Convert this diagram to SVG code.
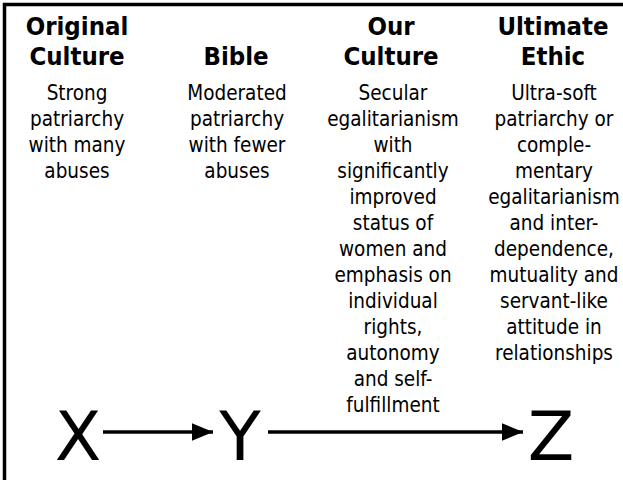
<svg xmlns="http://www.w3.org/2000/svg" width="623" height="480" viewBox="0 0 623 480">
<style>
text{font-family:"DejaVu Sans Condensed","DejaVu Sans",sans-serif;font-stretch:condensed;text-anchor:middle;fill:#000}
.h{font-weight:bold;font-size:25.5px}
.b{font-size:20.5px}
.big{font-family:"DejaVu Sans",sans-serif;font-stretch:normal;font-size:68px}
.ln{stroke:#000;stroke-width:3.5;fill:none}
</style>
<defs>
<marker id="ah" markerWidth="6" markerHeight="5" refX="6" refY="2.5" orient="auto" markerUnits="strokeWidth" viewBox="0 0 6 5">
<path d="M0,0 L6,2.5 L0,5 Z" fill="#000"/>
</marker>
</defs>
<rect width="623" height="480" fill="#fff"/>
<path d="M4.5,480 V4.5 H623" class="ln" stroke-width="2.5"/>
<g id="original">
<text class="h" x="77" y="35">Original</text>
<text class="h" x="77" y="65">Culture</text>
<text class="b" x="77" y="100">Strong</text>
<text class="b" x="77" y="126">patriarchy</text>
<text class="b" x="77" y="152">with many</text>
<text class="b" x="77" y="178">abuses</text>
</g>
<g id="bible">
<text class="h" x="236" y="65">Bible</text>
<text class="b" x="237" y="100">Moderated</text>
<text class="b" x="237" y="126">patriarchy</text>
<text class="b" x="237" y="152">with fewer</text>
<text class="b" x="237" y="178">abuses</text>
</g>
<g id="our">
<text class="h" x="391" y="35">Our</text>
<text class="h" x="391" y="65">Culture</text>
<text class="b" x="393" y="100">Secular</text>
<text class="b" x="393" y="126">egalitarianism</text>
<text class="b" x="393" y="152">with</text>
<text class="b" x="393" y="178">significantly</text>
<text class="b" x="393" y="204">improved</text>
<text class="b" x="393" y="230">status of</text>
<text class="b" x="393" y="256">women and</text>
<text class="b" x="393" y="282">emphasis on</text>
<text class="b" x="393" y="308">individual</text>
<text class="b" x="393" y="334">rights,</text>
<text class="b" x="393" y="360">autonomy</text>
<text class="b" x="393" y="386">and self-</text>
<text class="b" x="393" y="412">fulfillment</text>
</g>
<g id="ultimate">
<text class="h" x="553" y="35">Ultimate</text>
<text class="h" x="553" y="65">Ethic</text>
<text class="b" x="554" y="100">Ultra-soft</text>
<text class="b" x="554" y="126">patriarchy or</text>
<text class="b" x="554" y="152">comple-</text>
<text class="b" x="554" y="178">mentary</text>
<text class="b" x="554" y="204">egalitarianism</text>
<text class="b" x="554" y="230">and inter-</text>
<text class="b" x="554" y="256">dependence,</text>
<text class="b" x="554" y="282">mutuality and</text>
<text class="b" x="554" y="308">servant-like</text>
<text class="b" x="554" y="334">attitude in</text>
<text class="b" x="554" y="360">relationships</text>
</g>
<g id="x"><text class="big" x="78" y="460">X</text></g>
<g id="y"><text class="big" x="240" y="460">Y</text></g>
<g id="z"><text class="big" x="551" y="460">Z</text></g>
<g id="connectors">
<line class="ln" x1="103" y1="432" x2="213" y2="432" marker-end="url(#ah)"/>
<line class="ln" x1="268" y1="432" x2="523" y2="432" marker-end="url(#ah)"/>
</g>
</svg>
